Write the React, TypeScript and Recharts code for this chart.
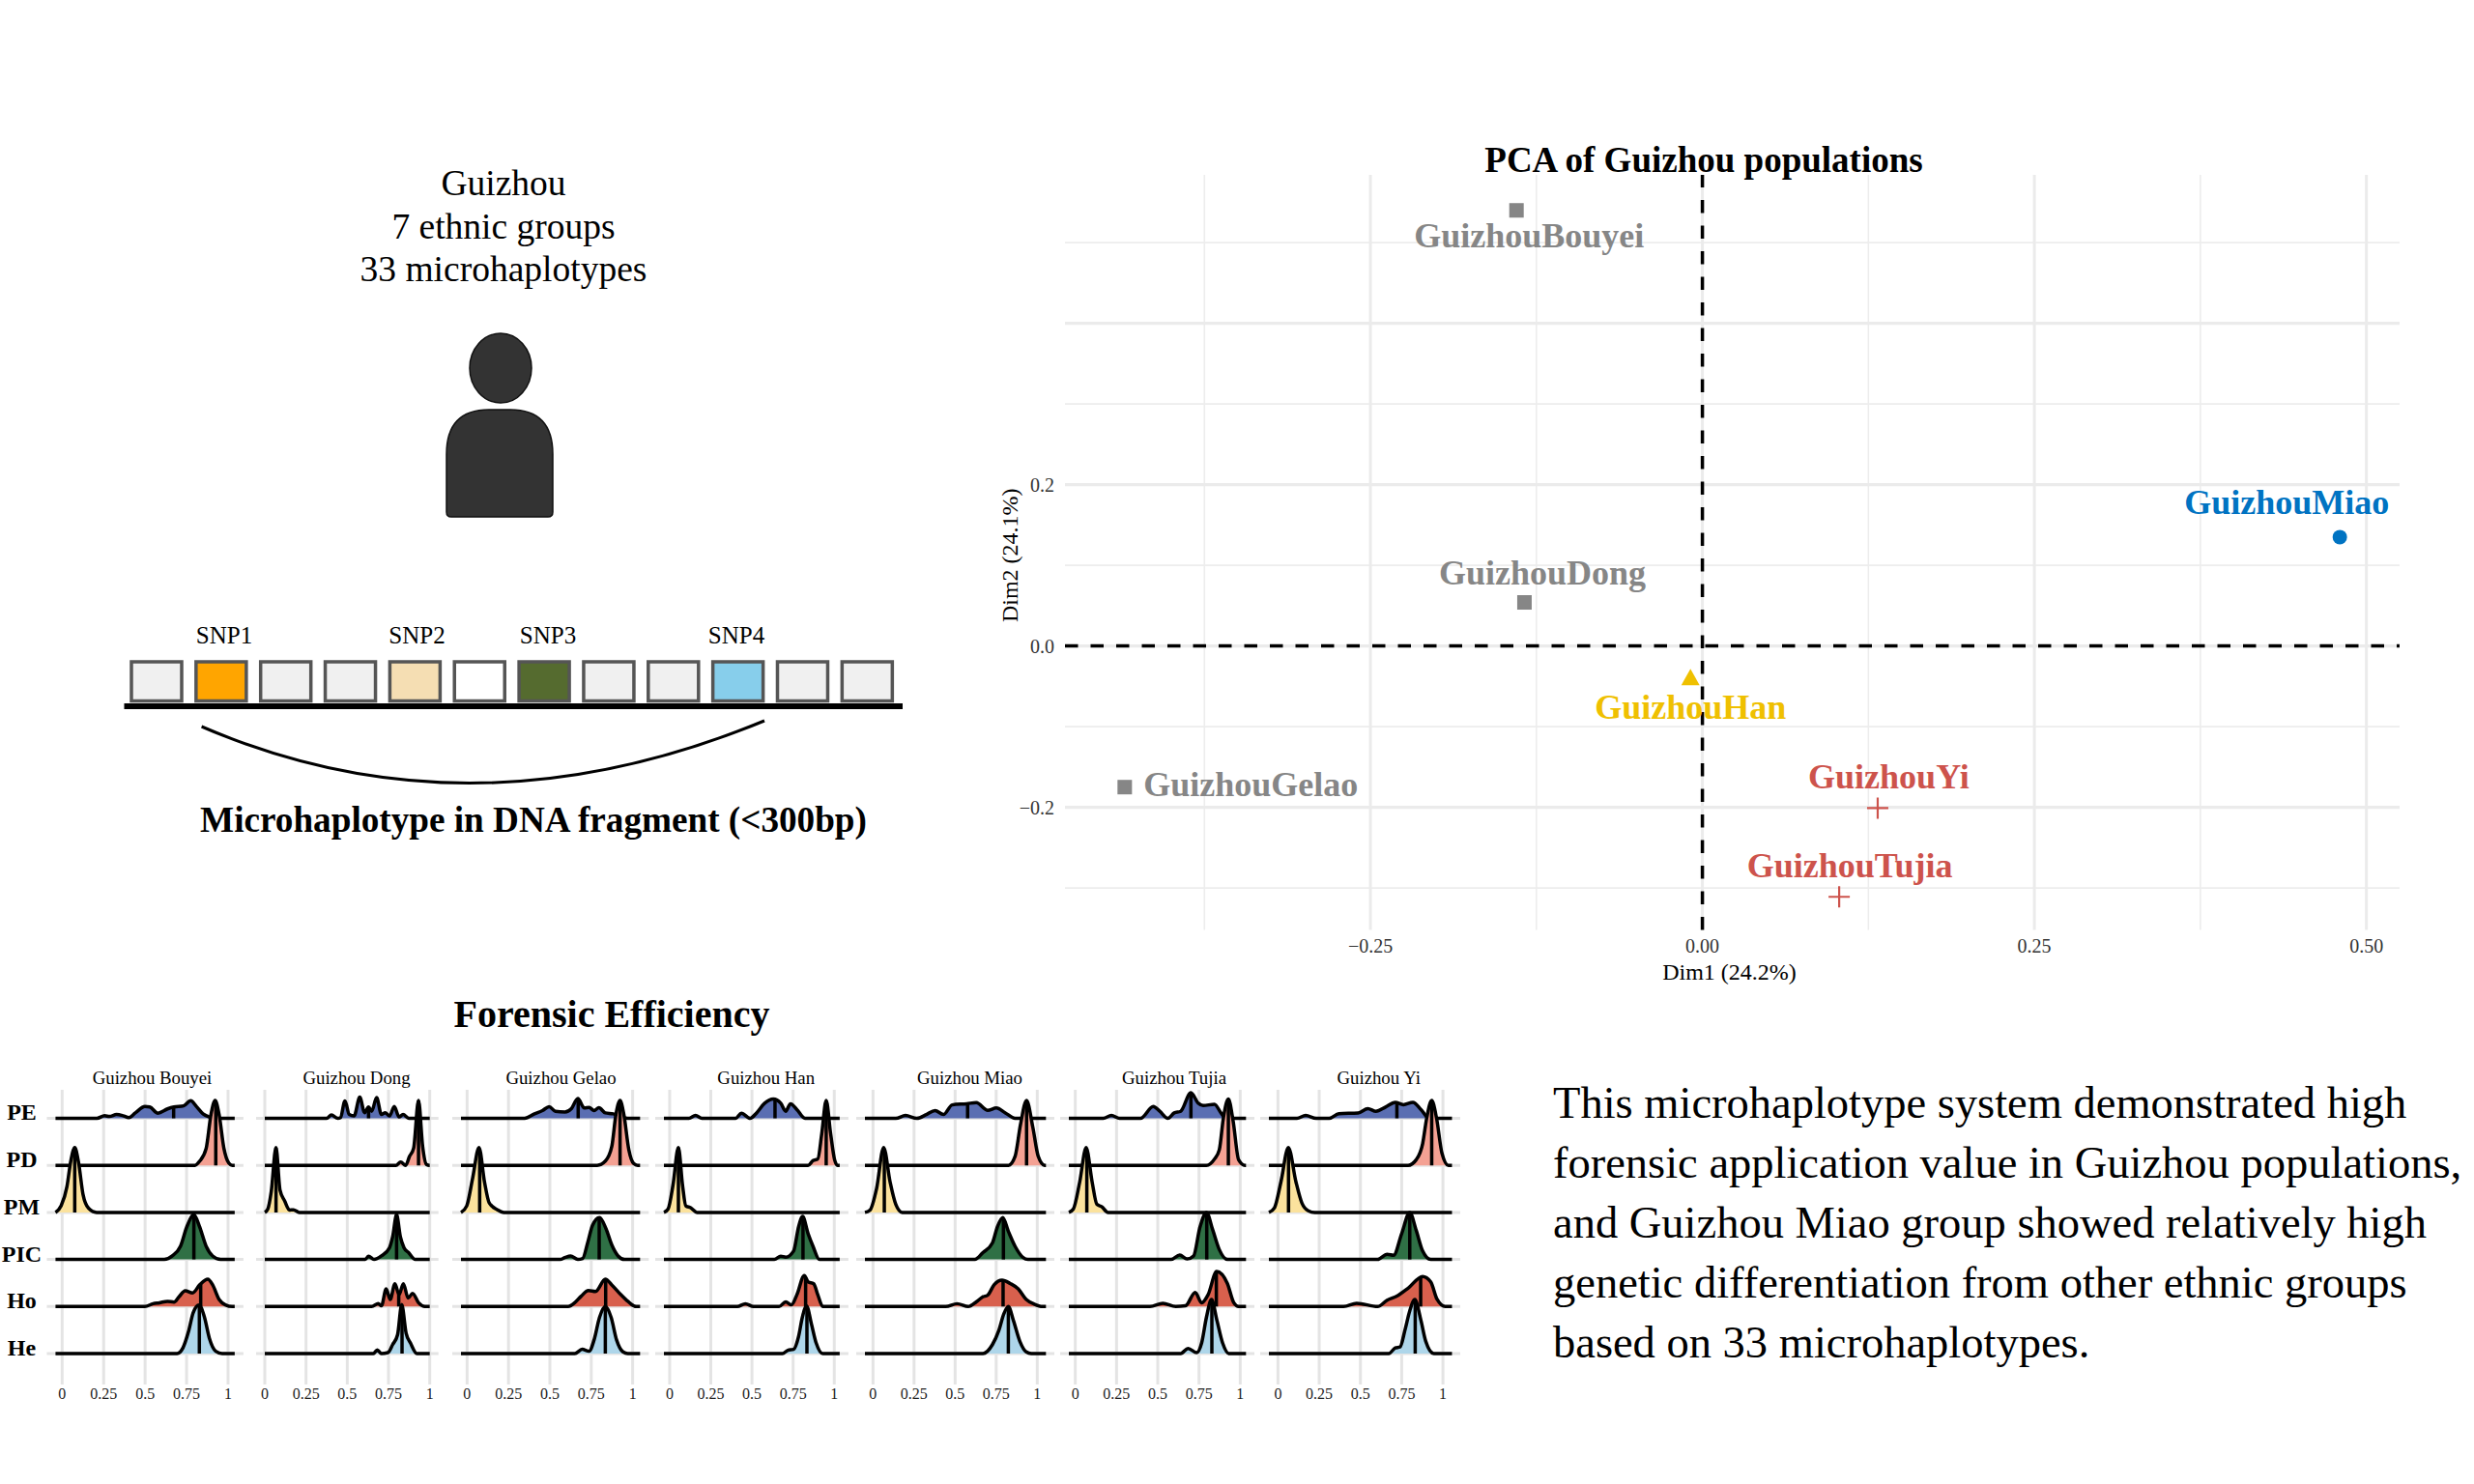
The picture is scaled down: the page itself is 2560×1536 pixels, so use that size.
import React from 'react';
import {
  ComposedChart, Area, Line, XAxis, YAxis, CartesianGrid, ReferenceLine,
  ScatterChart, Scatter, BarChart, Bar, Cell,
} from 'recharts';

const SERIF = '"Liberation Serif", serif';

/* ---------- PCA ---------- */
const pcaNames = ['GuizhouBouyei', 'GuizhouDong', 'GuizhouGelao', 'GuizhouHan', 'GuizhouMiao', 'GuizhouYi', 'GuizhouTujia'];
const pcaDim1 = [-0.14, -0.134, -0.435, -0.009, 0.48, 0.132, 0.103];
const pcaDim2 = [0.54, 0.054, -0.175, -0.039, 0.135, -0.201, -0.311];
const pcaColors = ['#868686', '#868686', '#868686', '#EFC000', '#0073C2', '#CD534C', '#CD534C'];
const pcaMarkers = ['square', 'square', 'square', 'triangle', 'circle', 'plus', 'plus'];
const pcaLabelDx = [13, 18.5, 130.5, 0, -55, 11.5, 11];
const pcaLabelDy = [26, -31, -3, 30.6, -36, -32.6, -32];
const pcaXTicks = [-0.25, 0, 0.25, 0.5];
const pcaXMinor = [-0.375, -0.125, 0.125, 0.375];
const pcaYTicks = [-0.2, 0, 0.2];
const pcaYMajor = [-0.2, 0, 0.2, 0.4];
const pcaYMinor = [-0.3, -0.1, 0.1, 0.3, 0.5];

/* ---------- Ridgelines: [x, density height in row units] ---------- */
const bouyeiPE = [[.21,0],[.256,.055],[.285,.04],[.328,.08],[.367,.055],[.402,.015],[.441,.115],[.499,.25],[.528,.24],[.577,.11],[.635,.2],[.674,.24],[.732,.265],[.775,.375],[.81,.25],[.849,.095],[.887,.03],[.926,0]];
const bouyeiPD = [[.8,0],[.829,.09],[.868,.36],[.897,1.08],[.922,1.38],[.946,1.08],[.975,.36],[1.004,.05],[1.025,0]];
const bouyeiPM = [[-.006,.14],[.029,.55],[.052,1.09],[.076,1.38],[.099,1.06],[.126,.38],[.159,.09],[.208,0]];
const bouyeiPIC = [[.616,0],[.664,.075],[.713,.28],[.751,.69],[.794,.95],[.829,.69],[.868,.28],[.907,.075],[.955,0]];
const bouyeiHo = [[.499,0],[.548,.06],[.586,.08],[.635,.11],[.674,.095],[.703,.2],[.742,.335],[.786,.29],[.829,.46],[.878,.58],[.907,.46],[.946,.15],[.984,.035],[1.025,0]];
const bouyeiHe = [[.693,0],[.728,.12],[.761,.46],[.79,.87],[.825,1.03],[.858,.77],[.887,.33],[.926,.05],[.965,0]];

const dongPE = [[.375,0],[.404,.07],[.443,0],[.459,.015],[.486,.37],[.512,.08],[.541,.05],[.576,.45],[.605,.12],[.629,.24],[.648,.15],[.678,.44],[.707,.08],[.73,.12],[.756,.05],[.785,.25],[.814,.03],[.838,.08],[.873,0]];
const dongPD = [[.795,0],[.824,.07],[.854,0],[.877,.19],[.902,.36],[.932,1.38],[.957,.4],[.98,.02],[.998,0]];
const dongPM = [[.018,.07],[.039,.44],[.068,1.38],[.092,.48],[.121,.24],[.15,.05],[.174,.055],[.209,0]];
const dongPIC = [[.609,0],[.629,.07],[.662,0],[.707,.075],[.756,.25],[.775,.48],[.799,.95],[.822,.48],[.844,.25],[.873,.14],[.912,0]];
const dongHo = [[.648,0],[.688,.06],[.707,.015],[.736,.375],[.76,.15],[.789,.485],[.814,.25],[.84,.485],[.869,.18],[.896,.28],[.932,.08],[.971,0]];
const dongHe = [[.658,0],[.682,.075],[.707,0],[.746,.02],[.775,.19],[.805,.4],[.83,1.04],[.857,.43],[.883,.225],[.922,0]];

const gelaoPE = [[.348,0],[.407,.095],[.455,.165],[.496,.245],[.533,.15],[.591,.135],[.63,.205],[.669,.42],[.708,.22],[.737,.23],[.767,.165],[.796,.225],[.835,.115],[.883,.095],[.932,.03],[.971,0]];
const gelaoPD = [[.786,0],[.835,.09],[.874,.4],[.899,1.08],[.924,1.38],[.947,1.08],[.977,.33],[1.006,.04],[1.03,0]];
const gelaoPM = [[-.002,.14],[.033,.72],[.072,1.38],[.105,.65],[.134,.2],[.183,.055],[.222,0]];
const gelaoPIC = [[.562,0],[.591,.04],[.625,.075],[.669,0],[.698,.02],[.728,.35],[.757,.72],[.8,.89],[.839,.655],[.874,.31],[.912,.075],[.951,0]];
const gelaoHo = [[.611,0],[.65,.08],[.689,.22],[.733,.34],[.776,.32],[.835,.58],[.874,.46],[.932,.24],[.981,.08],[1.02,0]];
const gelaoHe = [[.65,0],[.695,.09],[.737,.05],[.767,.29],[.8,.77],[.835,1.0],[.87,.77],[.903,.29],[.942,.035],[.971,0]];

const hanPE = [[.117,0],[.157,.06],[.196,0],[.401,0],[.436,.11],[.489,0],[.528,.115],[.577,.32],[.63,.41],[.675,.32],[.705,.15],[.734,.31],[.773,.185],[.822,0]];
const hanPD = [[.841,0],[.871,.1],[.9,.135],[.924,.67],[.951,1.38],[.978,.67],[1.002,.12],[1.02,0]];
const hanPM = [[-.01,.07],[.02,.58],[.053,1.38],[.078,.58],[.098,.14],[.127,.1],[.166,0]];
const hanPIC = [[.636,0],[.675,.07],[.705,.05],[.753,.18],[.783,.69],[.808,.915],[.841,.55],[.871,.28],[.91,0]];
const hanHo = [[.411,0],[.46,.06],[.509,0],[.665,0],[.705,.1],[.74,.035],[.773,.25],[.818,.66],[.841,.525],[.875,.485],[.9,.25],[.93,0]];
const hanHe = [[.685,0],[.718,.07],[.753,.09],[.783,.36],[.806,.77],[.832,1.01],[.861,.635],[.89,.225],[.93,0]];

const miaoPE = [[.139,0],[.198,.06],[.267,0],[.325,.08],[.378,.165],[.429,.08],[.482,.285],[.571,.31],[.629,.335],[.698,.17],[.751,.22],[.806,.115],[.865,0]];
const miaoPD = [[.825,0],[.865,.19],[.898,.87],[.935,1.38],[.973,.81],[1.006,.19],[1.045,0]];
const miaoPM = [[-.018,.05],[.022,.51],[.065,1.38],[.104,.65],[.139,.17],[.178,0]];
const miaoPIC = [[.62,0],[.669,.145],[.727,.35],[.757,.69],[.79,.89],[.825,.59],[.865,.28],[.914,.04],[.943,0]];
const miaoHo = [[.443,0],[.512,.06],[.58,0],[.629,.1],[.669,.205],[.698,.24],[.737,.46],[.786,.56],[.835,.49],[.884,.375],[.933,.15],[.982,.05],[1.031,0]];
const miaoHe = [[.669,0],[.727,.19],[.767,.5],[.796,.84],[.824,1.0],[.855,.7],[.894,.26],[.933,.035],[.963,0]];

const tujiaPE = [[.17,0],[.219,.06],[.268,0],[.395,0],[.473,.25],[.512,.15],[.561,0],[.6,.115],[.639,.15],[.701,.545],[.746,.32],[.775,.27],[.844,.3],[.883,.115],[.912,0]];
const tujiaPD = [[.795,0],[.844,.135],[.873,.33],[.898,1.01],[.928,1.41],[.957,.94],[.99,.12],[1.029,0]];
const tujiaPM = [[-.012,.07],[.027,.65],[.066,1.38],[.102,.65],[.131,.17],[.16,.12],[.199,0]];
const tujiaPIC = [[.58,0],[.633,.095],[.678,.01],[.717,.075],[.756,.69],[.795,1.0],[.834,.62],[.873,.21],[.922,0]];
const tujiaHo = [[.453,0],[.531,.07],[.609,0],[.668,.015],[.727,.3],[.766,.08],[.805,.25],[.857,.745],[.922,.49],[.961,.08],[.99,0]];
const tujiaHe = [[.639,0],[.684,.11],[.736,.02],[.766,.225],[.795,.77],[.826,1.15],[.859,.7],[.893,.225],[.932,0]];

const yiPE = [[.115,0],[.168,.06],[.232,0],[.311,0],[.369,.1],[.486,.115],[.545,.205],[.594,.15],[.652,.24],[.711,.34],[.76,.29],[.818,.34],[.867,.185],[.916,0]];
const yiPD = [[.789,0],[.838,.12],[.877,.46],[.902,1.01],[.932,1.38],[.961,1.01],[.994,.26],[1.033,0]];
const yiPM = [[-.021,.1],[.018,.65],[.063,1.38],[.109,.65],[.145,.2],[.184,.035],[.223,0]];
const yiPIC = [[.604,0],[.662,.11],[.701,.09],[.75,.55],[.799,1.0],[.838,.62],[.877,.18],[.926,0]];
const yiHo = [[.398,0],[.477,.07],[.604,0],[.662,.135],[.721,.22],[.789,.39],[.877,.64],[.926,.525],[.965,.15],[1.014,0]];
const yiHe = [[.672,0],[.711,.12],[.74,.14],[.77,.5],[.799,.91],[.83,1.15],[.867,.7],[.896,.26],[.945,0]];

const panelTitles = ['Guizhou Bouyei', 'Guizhou Dong', 'Guizhou Gelao', 'Guizhou Han', 'Guizhou Miao', 'Guizhou Tujia', 'Guizhou Yi'];
const panelCurves = [
  [bouyeiPE, bouyeiPD, bouyeiPM, bouyeiPIC, bouyeiHo, bouyeiHe],
  [dongPE, dongPD, dongPM, dongPIC, dongHo, dongHe],
  [gelaoPE, gelaoPD, gelaoPM, gelaoPIC, gelaoHo, gelaoHe],
  [hanPE, hanPD, hanPM, hanPIC, hanHo, hanHe],
  [miaoPE, miaoPD, miaoPM, miaoPIC, miaoHo, miaoHe],
  [tujiaPE, tujiaPD, tujiaPM, tujiaPIC, tujiaHo, tujiaHe],
  [yiPE, yiPD, yiPM, yiPIC, yiHo, yiHe],
];
const panelMedians = [
  [.672, .926, .076, .794, .835, .827],
  [.629, .932, .068, .799, .812, .832],
  [.671, .924, .076, .798, .837, .835],
  [.64, .951, .053, .81, .826, .834],
  [.576, .935, .069, .794, .792, .824],
  [.701, .928, .07, .797, .855, .828],
  [.721, .932, .064, .799, .865, .832],
];
const lineStart = [-.04, 0, -.037, -.035, -.049, -.039, -.055];
const lineEnd = [1.04, 1, 1.045, 1.033, 1.053, 1.035, 1.055];
const rowNames = ['PE', 'PD', 'PM', 'PIC', 'Ho', 'He'];
const rowLevels = [5, 4, 3, 2, 1, 0];
const rowColors = ['#5A6EB2', '#F4A193', '#FBE29D', '#2F7045', '#D8604D', '#AED6EA'];
const ridgeXTicks = [0, 0.25, 0.5, 0.75, 1];

// Placement of each facet on the page (pixels)
const facetZero = [64.3, 274.3, 483.7, 693.3, 903, 1112.7, 1322];
const facetUnit = [171.7, 170.7, 171.3, 170.3, 170, 170.7, 170.7];
const titleCenters = [157.5, 369, 580.5, 792.7, 1003.5, 1215, 1426.7];

/* ---------- Schematic ---------- */
const snpCells = ['a', 'SNP1', 'b', 'c', 'SNP2', 'd', 'SNP3', 'e', 'f', 'SNP4', 'g', 'h'];
const snpFills = ['#F0F0F0', '#FFA500', '#F0F0F0', '#F0F0F0', '#F5DEB3', '#FFFFFF', '#556B2F', '#F0F0F0', '#F0F0F0', '#87CEEB', '#F0F0F0', '#F0F0F0'];
const snpLabels = ['SNP1', 'SNP2', 'SNP3', 'SNP4'];
const snpLabelX = [232, 431.5, 567, 762];
const headLines = ['Guizhou', '7 ethnic groups', '33 microhaplotypes'];
const headLineY = [189, 234, 278];
const paragraph = [
  'This microhaplotype system demonstrated high',
  'forensic application value in Guizhou populations,',
  'and Guizhou Miao group showed relatively high',
  'genetic differentiation from other ethnic groups',
  'based on 33 microhaplotypes.',
];
const paragraphY = [1141, 1203, 1265, 1327, 1389];

function heightAt(curve: number[][], x: number) {
  for (let i = 1; i < curve.length; i++) {
    const [x0, h0] = curve[i - 1];
    const [x1, h1] = curve[i];
    if (x >= x0 && x <= x1) return h0 + ((h1 - h0) * (x - x0)) / (x1 - x0);
  }
  return 0;
}

const RIDGE_TOP = 1128;
const RIDGE_PLOT_H = 305;
const RIDGE_AXIS_H = 32;
const ROW_PX = 48.7;
const RIDGE_BASE0 = 1401;
const ridgeYDomain = [(RIDGE_BASE0 - (RIDGE_TOP + RIDGE_PLOT_H)) / ROW_PX, (RIDGE_BASE0 - RIDGE_TOP) / ROW_PX];

function Facet({ index }: { index: number }) {
  const unit = facetUnit[index];
  const pad = 9 / unit;
  const lo = lineStart[index];
  const hi = lineEnd[index];
  const d0 = lo - pad;
  const d1 = hi + pad;
  const plotLeft = facetZero[index] + d0 * unit;
  const plotWidth = (d1 - d0) * unit;
  const yw = index === 0 ? plotLeft : 0;
  const RowTick = (p: any) => {
    const name = rowNames[5 - p.payload.value];
    return (
      <text x={22.5} y={p.y - 6} textAnchor="middle" dominantBaseline="central" fontFamily={SERIF} fontWeight="bold" fontSize={24} fill="#000">
        {name}
      </text>
    );
  };
  return (
    <div style={{ position: 'absolute', left: plotLeft - yw, top: RIDGE_TOP }}>
      <ComposedChart width={plotWidth + yw} height={RIDGE_PLOT_H + RIDGE_AXIS_H} margin={{ top: 0, right: 0, bottom: 0, left: 0 }}>
        <CartesianGrid stroke="#E4E4E4" strokeWidth={3} horizontalValues={rowLevels} verticalValues={ridgeXTicks} />
        <XAxis
          type="number" dataKey="x" domain={[d0, d1]} allowDataOverflow ticks={ridgeXTicks} interval={0}
          height={RIDGE_AXIS_H} axisLine={false} tickLine={false} tickMargin={-2} tickFormatter={(v: number) => String(v)}
          tick={{ fontSize: 16, fontFamily: SERIF, fill: '#222' }}
        />
        <YAxis
          type="number" domain={ridgeYDomain} allowDataOverflow ticks={rowLevels} interval={0} width={yw}
          hide={index !== 0} axisLine={false} tickLine={false} tick={RowTick}
        />
        {panelCurves[index].map((curve, r) => {
          const level = rowLevels[r];
          const pts = [[lo, 0], ...curve, [hi, 0]].map(([x, h]) => ({ x, y: level + h }));
          const m = panelMedians[index][r];
          const medianPts = [{ x: m, y: level }, { x: m, y: level + heightAt(curve, m) }];
          return [
            <Area
              key={`a${r}`} data={pts} dataKey="y" type="monotone" baseValue={level} fill={rowColors[r]} fillOpacity={1}
              stroke="#000" strokeWidth={3.5} dot={false} activeDot={false} isAnimationActive={false} zIndex={100 + 2 * r}
            />,
            <Line
              key={`m${r}`} data={medianPts} dataKey="y" type="linear" stroke="#000" strokeWidth={3.5}
              dot={false} activeDot={false} isAnimationActive={false} zIndex={101 + 2 * r}
            />,
          ];
        })}
      </ComposedChart>
    </div>
  );
}

const pcaData = pcaNames.map((name, i) => ({ name, x: pcaDim1[i], y: pcaDim2[i] }));
const PCA_LEFT = 1102;
const PCA_RIGHT = 2483;
const PCA_TOP = 180.5;
const PCA_BOTTOM = 962;
const PCA_YW = 76;
const PCA_XH = 60;
const pcaXDomain = [-0.48, 0.525];
const pcaYDomain = [-0.352, 0.584];

function pcaShape(i: number) {
  return (p: any) => {
    const cx = p.cx;
    const cy = p.cy;
    const c = pcaColors[i];
    const kind = pcaMarkers[i];
    return (
      <g>
        {kind === 'square' && <rect x={cx - 7.5} y={cy - 7.5} width={15} height={15} fill={c} />}
        {kind === 'circle' && <circle cx={cx} cy={cy} r={7.5} fill={c} />}
        {kind === 'triangle' && <polygon points={`${cx},${cy - 9} ${cx + 9.5},${cy + 8} ${cx - 9.5},${cy + 8}`} fill={c} />}
        {kind === 'plus' && <path d={`M${cx - 11},${cy}H${cx + 11}M${cx},${cy - 11}V${cy + 11}`} stroke={c} strokeWidth={2.2} fill="none" />}
        <text x={cx + pcaLabelDx[i]} y={cy + pcaLabelDy[i]} textAnchor="middle" dominantBaseline="central" fontFamily={SERIF} fontWeight="bold" fontSize={36} fill={c}>
          {pcaNames[i]}
        </text>
      </g>
    );
  };
}

function PcaChart() {
  return (
    <div style={{ position: 'absolute', left: PCA_LEFT - PCA_YW, top: PCA_TOP }}>
      <ScatterChart width={PCA_RIGHT - PCA_LEFT + PCA_YW} height={PCA_BOTTOM - PCA_TOP + PCA_XH} margin={{ top: 0, right: 0, bottom: 0, left: 0 }}>
        <CartesianGrid stroke="#EDEDED" strokeWidth={1.6} horizontal={false} verticalValues={pcaXMinor} />
        <CartesianGrid stroke="#EDEDED" strokeWidth={1.6} vertical={false} horizontalValues={pcaYMinor} />
        <CartesianGrid stroke="#EBEBEB" strokeWidth={3} horizontal={false} verticalValues={pcaXTicks} />
        <CartesianGrid stroke="#EBEBEB" strokeWidth={3.2} vertical={false} horizontalValues={pcaYMajor} />
        <XAxis
          type="number" dataKey="x" domain={pcaXDomain} allowDataOverflow ticks={pcaXTicks} interval={0} height={PCA_XH}
          axisLine={false} tickLine={false} tickMargin={3} tickFormatter={(v: number) => (v < 0 ? '\u2212' : '') + Math.abs(v).toFixed(2)}
          tick={{ fontSize: 20, fontFamily: SERIF, fill: '#333' }}
          label={{ value: 'Dim1 (24.2%)', position: 'insideBottom', offset: 9, dx: -3, fontSize: 24, fontFamily: SERIF, fill: '#000' }}
        />
        <YAxis
          type="number" dataKey="y" domain={pcaYDomain} allowDataOverflow ticks={pcaYTicks} interval={0} width={PCA_YW}
          axisLine={false} tickLine={false} tickMargin={5} tickFormatter={(v: number) => (v < 0 ? '\u2212' : '') + Math.abs(v).toFixed(1)}
          tick={{ fontSize: 20, fontFamily: SERIF, fill: '#333' }}
          label={{ value: 'Dim2 (24.1%)', angle: -90, position: 'insideLeft', offset: 18, dy: 3, fontSize: 24, fontFamily: SERIF, fill: '#000', style: { textAnchor: 'middle' } }}
        />
        <ReferenceLine x={0} stroke="#000" strokeWidth={3.5} strokeDasharray="13.5 13" />
        <ReferenceLine y={0} stroke="#000" strokeWidth={3.5} strokeDasharray="13.5 13" />
        {pcaData.map((d, i) => (
          <Scatter key={d.name} name={d.name} data={[d]} shape={pcaShape(i)} isAnimationActive={false} />
        ))}
      </ScatterChart>
    </div>
  );
}

function SnpRow() {
  const rows = snpCells.map((name) => ({ name, v: 1 }));
  return (
    <div style={{ position: 'absolute', left: 128.8, top: 680.5 }}>
      <BarChart width={802.2} height={48} data={rows} margin={{ top: 4, right: 0, bottom: 3.5, left: 0 }} barSize={52}>
        <XAxis dataKey="name" hide />
        <YAxis hide domain={[0, 1]} />
        <Bar dataKey="v" stroke="#555" strokeWidth={3.5} isAnimationActive={false}>
          {snpFills.map((c, i) => <Cell key={i} fill={c} />)}
        </Bar>
      </BarChart>
    </div>
  );
}

function Overlay() {
  return (
    <svg width={2560} height={1536} style={{ position: 'absolute', left: 0, top: 0, pointerEvents: 'none' }}>
      <g fontFamily={SERIF} fill="#000">
        {headLines.map((t, i) => (
          <text key={t} x={521} y={headLineY[i]} textAnchor="middle" dominantBaseline="central" fontSize={37.5}>{t}</text>
        ))}
        {snpLabels.map((t, i) => (
          <text key={t} x={snpLabelX[i]} y={657} textAnchor="middle" dominantBaseline="central" fontSize={25}>{t}</text>
        ))}
        <text x={552} y={848.5} textAnchor="middle" dominantBaseline="central" fontSize={37.2} fontWeight="bold">Microhaplotype in DNA fragment (&lt;300bp)</text>
        <text x={1763} y={165.5} textAnchor="middle" dominantBaseline="central" fontSize={37} fontWeight="bold">PCA of Guizhou populations</text>
        <text x={633} y={1049.5} textAnchor="middle" dominantBaseline="central" fontSize={40} fontWeight="bold">Forensic Efficiency</text>
        {panelTitles.map((t, i) => (
          <text key={t} x={titleCenters[i]} y={1115} textAnchor="middle" dominantBaseline="central" fontSize={18.8}>{t}</text>
        ))}
        {paragraph.map((t, i) => (
          <text key={t} x={1607} y={paragraphY[i]} dominantBaseline="central" fontSize={46.5}>{t}</text>
        ))}
      </g>
      <ellipse cx={518} cy={381} rx={32} ry={36} fill="#333" stroke="#111" strokeWidth={1.5} />
      <path d="M462,470 Q462,424 506,424 H528 Q572,424 572,470 V530 Q572,535 567,535 H467 Q462,535 462,530 Z" fill="#333" stroke="#111" strokeWidth={1.5} />
      <rect x={128.5} y={728} width={805.5} height={6} fill="#000" />
      <path d="M208.6,752 Q486,872 791,746" fill="none" stroke="#000" strokeWidth={3} />
    </svg>
  );
}

export default function App() {
  return (
    <div style={{ position: 'absolute', left: 0, top: 0, width: 2560, height: 1536, background: '#fff', overflow: 'hidden' }}>
      <PcaChart />
      {facetZero.map((_, i) => <Facet key={i} index={i} />)}
      <SnpRow />
      <Overlay />
    </div>
  );
}
